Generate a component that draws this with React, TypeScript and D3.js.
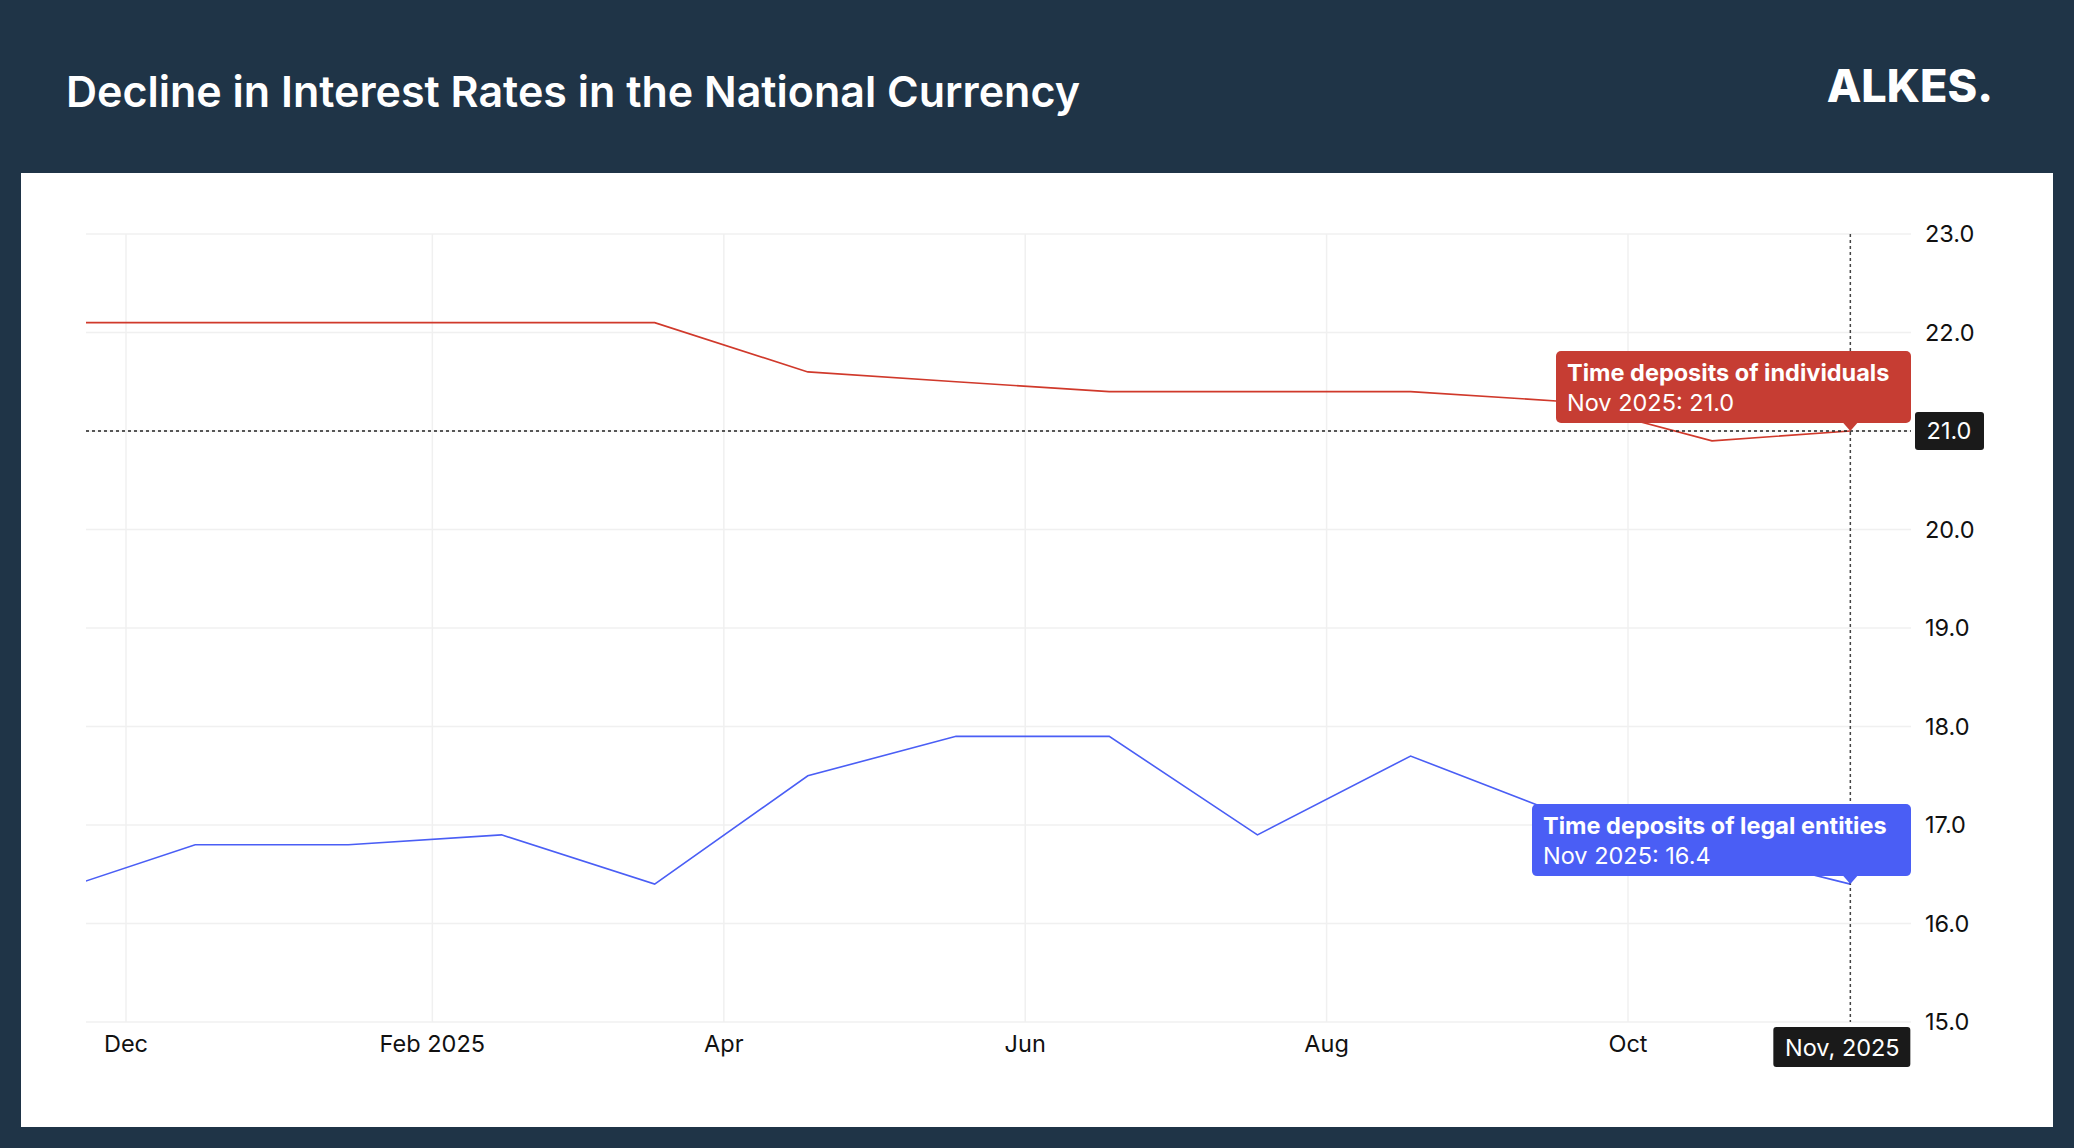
import React from "react";
import * as d3 from "d3";

const months = ["2024-11-15","2024-12-15","2025-01-15","2025-02-15","2025-03-18","2025-04-18","2025-05-18","2025-06-18","2025-07-18","2025-08-18","2025-09-18","2025-10-18","2025-11-15"];
const individuals = [22.1,22.1,22.1,22.1,22.1,21.6,21.5,21.4,21.4,21.4,21.3,20.9,21.0];
const legalEntities = [16.3,16.8,16.8,16.9,16.4,17.5,17.9,17.9,16.9,17.7,17.1,16.75,16.4];
const yTicks = [15,16,17,18,19,20,21,22,23];
const xTicks = ["2024-12-01","2025-02-01","2025-04-01","2025-06-01","2025-08-01","2025-10-01"];
const xTickLabels = ["Dec","Feb 2025","Apr","Jun","Aug","Oct"];

const W = 2074, H = 1148;
const L = 86, R = 1911, T = 234, B = 1022;
const FONT = "Inter, 'Noto Sans', sans-serif";

export default function App() {
  const parse = d3.timeParse("%Y-%m-%d");
  const dates = months.map(d => parse(d)!);
  const x = d3.scaleTime().domain([parse("2024-12-01")!, parse("2025-10-01")!]).range([126, 1628]);
  const y = d3.scaleLinear().domain([15, 23]).range([B, T]);
  const line = d3.line<number>().x((_, i) => x(dates[i])).y(v => y(v));
  const last = dates.length - 1;
  const cx = x(dates[last]);
  const tip = (v: number, color: string, title: string, w: number) => {
    const py = y(v);
    const bx = R - w, by = py - 80, bh = 72;
    return (
      <g>
        <rect x={bx} y={by} width={w} height={bh} rx={5} fill={color} />
        <path d={`M${cx - 7},${by + bh} L${cx},${py} L${cx + 7},${by + bh}Z`} fill={color} />
        <text x={bx + 11} y={by + 30} fill="#fff" fontSize={23.5} fontWeight={700} fontFamily={FONT}>{title}</text>
        <text x={bx + 11} y={by + 60} fill="#fff" fontSize={23.5} fontFamily={FONT}>{`Nov 2025: ${v.toFixed(1)}`}</text>
      </g>
    );
  };
  return (
    <div style={{ position: "fixed", left: 0, top: 0 }}>
      <svg width={W} height={H} style={{ display: "block" }}>
        <rect width={W} height={H} fill="#1f3447" />
        <text x={66} y={107} fill="#fff" fontSize={43} fontWeight={600} fontFamily={FONT}>Decline in Interest Rates in the National Currency</text>
        <text x={1993} y={102} textAnchor="end" fill="#fff" fontSize={45} fontWeight={800} fontFamily={FONT}>ALKES.</text>
        <rect x={21} y={173} width={2032} height={954} fill="#fff" />
        <defs><clipPath id="c"><rect x={L} y={T - 10} width={R - L} height={B - T + 20} /></clipPath></defs>
        {yTicks.map(t => <line key={t} x1={L} x2={R} y1={y(t)} y2={y(t)} stroke="#f0f0f0" strokeWidth={1.5} />)}
        {xTicks.map(t => <line key={t} x1={x(parse(t)!)} x2={x(parse(t)!)} y1={T} y2={B} stroke="#f0f0f0" strokeWidth={1.5} />)}
        {yTicks.map(t => <text key={t} x={1925} y={y(t) + 8} fontSize={23.5} fill="#111" fontFamily={FONT}>{t.toFixed(1)}</text>)}
        {xTicks.map((t, i) => <text key={t} x={x(parse(t)!)} y={1052} textAnchor="middle" fontSize={23.5} fill="#111" fontFamily={FONT}>{xTickLabels[i]}</text>)}
        <g clipPath="url(#c)">
          <path d={line(individuals)!} fill="none" stroke="#d0392b" strokeWidth={1.6} />
          <path d={line(legalEntities)!} fill="none" stroke="#4a5ef5" strokeWidth={1.6} />
        </g>
        <line x1={L} x2={R} y1={y(21)} y2={y(21)} stroke="#222" strokeDasharray="3,3" strokeWidth={1.5} />
        <line x1={cx} x2={cx} y1={T} y2={B} stroke="#444" strokeDasharray="3,3" strokeWidth={1.5} />
        {tip(individuals[last], "#c63d33", "Time deposits of individuals", 355)}
        {tip(legalEntities[last], "#4a5ef5", "Time deposits of legal entities", 379)}
        <rect x={1915} y={y(21) - 19} width={69} height={38} rx={3} fill="#1a1a1a" />
        <text x={1949} y={y(21) + 8} textAnchor="middle" fill="#fff" fontSize={23.5} fontFamily={FONT}>21.0</text>
        <rect x={cx - 77} y={1027} width={137} height={40} rx={3} fill="#1a1a1a" />
        <text x={cx - 8} y={1056} textAnchor="middle" fill="#fff" fontSize={23.5} fontFamily={FONT}>Nov, 2025</text>
      </svg>
    </div>
  );
}
